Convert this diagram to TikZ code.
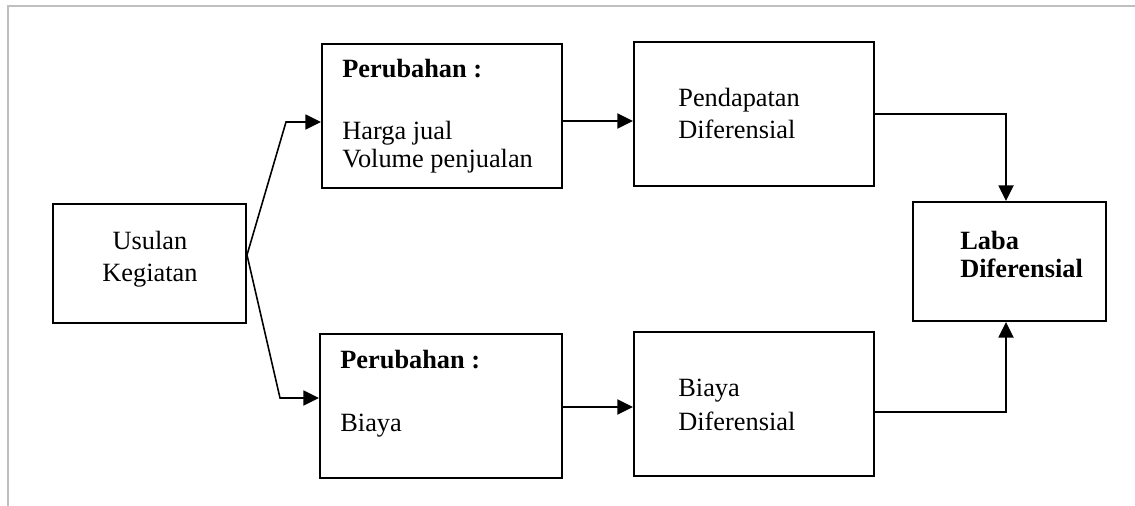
\documentclass[tikz,border=0pt]{standalone}
\usepackage{fontspec}
\setmainfont{Liberation Serif}
\usetikzlibrary{arrows.meta,fit}
\begin{document}
\begin{tikzpicture}[x=0.02cm,y=-0.02cm,
  box/.style={draw=black,line width=1.2pt,inner sep=0pt,rectangle},
  txt/.style={inner sep=0pt,anchor=base west,font=\fontsize{15}{18}\selectfont},
  txtc/.style={inner sep=0pt,anchor=base,font=\fontsize{15}{18}\selectfont},
  bold/.style={font=\fontsize{15}{18}\selectfont\bfseries},
  link/.style={line width=1.1pt,-{Triangle[length=0.31cm,width=0.3cm]}},
  fork/.style={line width=0.9pt,-{Triangle[length=0.31cm,width=0.3cm]}},
  frame/.style={draw=black!25,line width=0.9pt}]
\useasboundingbox (0,0) rectangle (1135,506);

% page frame (top and left edges)
\draw[frame] (8,506) -- (8,6) -- (1135,6);

% boxes
\node[box,fit={(53,204) (246,323)}] (u) {};
\node[box,fit={(322,44) (562,188)}] (b1) {};
\node[box,fit={(634,42) (874,186)}] (b2) {};
\node[box,fit={(320,334) (562,478)}] (b3) {};
\node[box,fit={(634,332) (874,476)}] (b4) {};
\node[box,fit={(913,202) (1106,321)}] (b5) {};

% texts
\node[txtc] (u1) at (150,250) {Usulan};
\node[txtc] (u2) at (150,282) {Kegiatan};

\node[txt,bold] (p1) at (342,78) {Perubahan :};
\node[txt] (p2) at (342,140) {Harga jual};
\node[txt] (p3) at (342,168) {Volume penjualan};

\node[txt] (d1) at (678,107) {Pendapatan};
\node[txt] (d2) at (678,139) {Diferensial};

\node[txt,bold] (q1) at (340,368) {Perubahan :};
\node[txt] (q2) at (340,431) {Biaya};

\node[txt] (e1) at (678,396) {Biaya};
\node[txt] (e2) at (678,430) {Diferensial};

\node[txt,bold] (l1) at (960,250) {Laba};
\node[txt,bold] (l2) at (960,277) {Diferensial};

% connectors
\coordinate (split) at (247,255);
\coordinate (c1) at (286,122);
\coordinate (c2) at (280,398);
\draw[fork] (split) -- (c1) -- (b1.west |- c1);
\draw[fork] (split) -- (c2) -- (b3.west |- c2);

\draw[link] (b1.east |- 0,121) -- (b2.west |- 0,121);
\draw[link] (b3.east |- 0,407) -- (b4.west |- 0,407);

\coordinate (r1) at (1006,114);
\coordinate (r2) at (1006,412);
\draw[link] (b2.east |- r1) -- (r1) -- (b5.north -| r1);
\draw[link] (b4.east |- r2) -- (r2) -- (b5.south -| r2);
\end{tikzpicture}
\end{document}
